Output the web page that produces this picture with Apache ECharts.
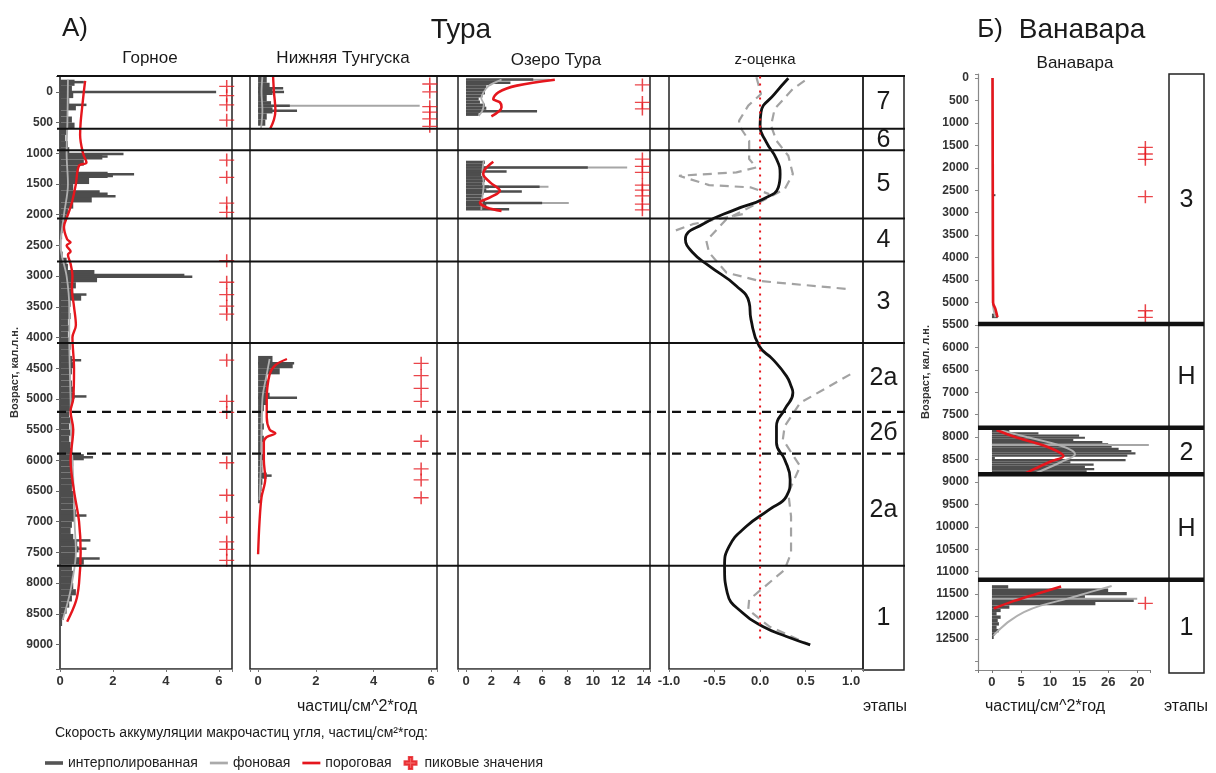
<!DOCTYPE html>
<html>
<head>
<meta charset="utf-8">
<script src="https://cdn.jsdelivr.net/npm/echarts@6/dist/echarts.min.js"></script>
<style>
  html, body { margin: 0; padding: 0; background: #fff; }
  #chart { width: 1216px; height: 773px; }
</style>
</head>
<body>
<div id="chart"></div>
<script>
// ---- данные: [возраст кал. л.н., частиц/см^2*год] ----
const turaBounds = [600, 950, 2060, 2760, 4090, 7720];
const turaDashedBounds = [5210, 5890];
const turaStages = [['7', -260, 600], ['6', 600, 950], ['5', 950, 2060], ['4', 2060, 2760], ['3', 2760, 4090],
  ['2а', 4090, 5210], ['2б', 5210, 5890], ['2а', 5890, 7720], ['1', 7720, 9400]];

const vanBounds = [5480, 7790, 8830, 11180];
const vanStages = [['3', -90, 5480], ['Н', 5480, 7790], ['2', 7790, 8830], ['Н', 8830, 11180], ['1', 11180, 13190]];
const vanTickLabels = ['0', '5', '10', '15', '26', '20'];

// Горное
const gornoeBins = [[-200,0.55],[-100,0.45],[0,0.5],[100,0.35],[200,0.6],[300,0.3],[400,0.45],[500,0.55],[600,0.25],[700,0.2],
  [800,0.3],[900,0.35],[1000,1.6],[1100,0.9],[1200,0.7],[1300,1.8],[1400,1.1],[1500,0.5],[1600,1.5],[1700,1.2],[1800,0.5],
  [1900,0.3],[2000,0.25],[2100,0.15],[2200,0.1],[2300,0.08],[2400,0.05],[2500,0.05],[2600,0.1],[2700,0.25],[2800,0.3],
  [2900,1.3],[3000,1.4],[3100,0.6],[3200,0.5],[3300,0.8],[3400,0.4],[3500,0.35],[3600,0.4],[3700,0.3],[3800,0.35],
  [3900,0.3],[4000,0.35],[4100,0.4],[4200,0.35],[4300,0.45],[4400,0.5],[4500,0.45],[4600,0.4],[4700,0.45],[4800,0.5],
  [4900,0.55],[5000,0.45],[5100,0.4],[5200,0.35],[5300,0.4],[5400,0.35],[5500,0.4],[5600,0.35],[5700,0.4],[5800,0.45],
  [5900,0.9],[6000,0.5],[6100,0.4],[6200,0.45],[6300,0.5],[6400,0.45],[6500,0.5],[6600,0.55],[6700,0.5],[6800,0.6],
  [6900,0.55],[7000,0.45],[7100,0.4],[7200,0.5],[7300,0.65],[7400,0.7],[7500,0.6],[7600,0.9],[7700,0.45],[7800,0.5],
  [7900,0.45],[8000,0.5],[8100,0.6],[8200,0.45],[8300,0.35],[8400,0.25],[8500,0.15],[8600,0.08]];
const gornoeSpikes = [[-160,0.9],[0,5.9],[210,1.0],[1010,2.4],[1050,1.8],[1340,2.8],[1370,2.0],[1660,1.8],[1700,2.1],
  [2980,4.7],[3010,5.0],[3040,1.4],[3300,1.0],[4370,0.8],[4960,1.0],[5950,1.25],[6900,1.0],[7305,1.15],[7440,1.0],[7600,1.5]];
const gornoeBackground = [[-200,0.3],[500,0.28],[1000,0.25],[1500,0.3],[2000,0.15],[2500,0.02],[3000,0.25],[3500,0.35],
  [4000,0.35],[4500,0.37],[5000,0.4],[5500,0.42],[6000,0.47],[6500,0.52],[7000,0.55],[7500,0.6],[8000,0.45],[8300,0.3],[8600,0.1]];
const gornoeThreshold = [[-180,0.95],[0,0.9],[200,0.85],[500,0.78],[700,0.76],[1000,0.87],[1150,1.0],[1200,0.72],[1500,0.6],
  [1800,0.45],[2000,0.3],[2200,0.15],[2400,0.27],[2450,0.4],[2500,0.25],[2600,0.4],[2650,0.3],[2800,0.4],[3000,0.47],
  [3200,0.45],[3500,0.53],[3800,0.6],[4000,0.47],[4500,0.53],[5000,0.5],[5200,0.4],[5500,0.5],[6000,0.4],[6500,0.53],
  [7000,0.72],[7500,0.78],[8000,0.72],[8300,0.6],[8630,0.27]];
const gornoePeaks = [-90,60,210,460,1110,1390,1810,1960,2750,3100,3300,3490,3620,4370,5040,5220,6040,6570,6930,7330,7450,7630]
  .map(a => [6.3, a]);

// Нижняя Тунгуска
const ntBins = [[-250,0.3],[-150,0.4],[-50,0.5],[50,0.3],[150,0.45],[250,0.5],[350,0.3],[450,0.25],
  [4300,0.5],[4400,1.2],[4500,0.75],[4600,0.3],[4700,0.35],[4800,0.3],[4900,0.4],[5000,0.3],[5100,0.2],[5200,0.15],
  [5300,0.15],[5400,0.2],[5500,0.15],[5600,0.2],[5700,0.15],[5800,0.15],[5900,0.2],[6000,0.15],[6100,0.15],[6200,0.3],
  [6300,0.15],[6400,0.12],[6500,0.1],[6600,0.08]];
const ntSpikes = [[-60,0.87],[0,0.9],[225,1.1],[305,1.35],[4420,1.25],[4980,1.35],[6250,0.47]];
const ntSpikesLight = [[225,5.6]];
const ntBackgroundUpper = [[-250,0.15],[0,0.12],[300,0.15],[600,0.1]];
const ntBackgroundLower = [[4350,0.4],[4600,0.3],[5000,0.15],[6000,0.1],[6650,0.05]];
const ntThresholdUpper = [[-250,0.52],[0,0.55],[300,0.6],[450,0.55],[600,0.42]];
const ntThresholdLower = [[4350,1.0],[4450,0.6],[4600,0.4],[5000,0.3],[5300,0.3],[5500,0.4],[5560,0.6],[5620,0.3],
  [5700,0.2],[6000,0.2],[6300,0.25],[6600,0.12],[7000,0.05],[7530,0.0]];
const ntPeaks = [[5.95,-130],[5.95,0],[5.95,240],[5.95,330],[5.95,440],[5.95,560],
  [5.65,4420],[5.65,4620],[5.65,4830],[5.65,5040],[5.65,5690],[5.65,6140],[5.65,6320],[5.65,6610]];

// Озеро Тура
const otBins = [[-210,2.5],[-160,2.0],[-110,1.6],[-60,1.5],[-10,1.5],[40,1.3],[90,1.0],[140,1.1],[190,1.5],[240,1.6],
  [290,1.2],[340,1.0],
  [1120,1.5],[1170,1.4],[1220,1.6],[1270,1.3],[1320,1.2],[1370,1.4],[1420,1.5],[1470,1.3],[1520,1.8],[1570,1.6],
  [1620,1.4],[1670,1.3],[1720,1.2],[1770,1.5],[1820,1.6],[1870,1.4]];
const otSpikes = [[-205,5.3],[-150,3.5],[315,5.6],[1230,9.6],[1295,3.2],[1545,5.8],[1620,4.4],[1810,6.0],[1910,3.4]];
const otSpikesLight = [[-200,6.6],[1230,12.7],[1545,6.5],[1810,8.1]];
const otBackgroundUpper = [[-200,2.8],[-100,1.8],[0,1.4],[100,1.2],[200,1.4],[300,1.3],[390,1.0]];
const otBackgroundLower = [[1120,1.4],[1300,1.3],[1500,1.4],[1700,1.3],[1920,1.2]];
const otThresholdUpper = [[-200,7.0],[-103,4.0],[5,2.55],[114,2.15],[168,2.67],[250,2.8],[397,2.0]];
const otThresholdLower = [[1137,2.15],[1256,1.5],[1338,1.36],[1473,1.9],[1610,2.67],[1718,1.9],[1800,1.1],[1882,1.63],[1937,2.8]];
const otPeaks = [-115,170,277,1093,1212,1310,1517,1599,1692,1827,1920].map(a => [13.9, a]);

// z-оценка: [возраст, z]
const zComposite = [[-223,0.31],[33,0.16],[331,0.01],[550,0.0],[820,0.07],[1093,0.18],[1338,0.22],[1555,0.2],[1746,0.03],
  [1909,-0.26],[2154,-0.63],[2398,-0.82],[2616,-0.74],[2834,-0.56],[3160,-0.26],[3431,-0.12],[3704,-0.1],[4139,-0.01],
  [4356,0.14],[4629,0.29],[4791,0.34],[4900,0.36],[5172,0.27],[5444,0.18],[5716,0.18],[5988,0.27],[6314,0.33],[6586,0.29],
  [6804,0.10],[7076,-0.15],[7402,-0.34],[7728,-0.39],[8162,-0.36],[8489,-0.19],[8707,0.03],[8870,0.29],[9006,0.55]];
const zSiteA1 = [[-184,0.49],[-49,0.36],[277,0.16],[550,0.12],[795,0.18],[1040,0.31],[1338,0.36],[1583,0.27],[1800,-0.01],
  [2072,-0.37],[2426,-0.59],[2616,-0.56],[2942,-0.37],[3078,-0.01],[3214,0.99]];
const zSiteA2 = [[4600,0.99],[5064,0.44],[5444,0.27],[5662,0.25],[6097,0.44],[6532,0.31],[6913,0.34],[7511,0.34],
  [7783,0.27],[8272,-0.12],[8435,-0.13],[8707,0.10],[9006,0.55]];
const zSiteB1 = [[-240,-0.04],[33,0.01],[223,-0.13],[468,-0.23],[550,-0.23],[795,-0.12],[1093,-0.12],[1229,-0.04],
  [1310,-0.26],[1365,-0.89],[1517,-0.56],[1555,-0.10],[1664,0.10]];
const zSiteB2 = [[1990,-0.19],[2154,-0.74],[2263,-0.94]];
const zZero = [[-250,0],[8970,0]];

// Ванавара
const vanBins = [[5250,0.8],[5300,1.0],
  [7840,3],[7890,8],[7940,15],[7990,16],[8040,14],[8090,19],[8140,20],[8190,20.6],[8240,21.8],[8290,24],[8340,24.7],
  [8390,23.3],[8440,0.5],[8490,23],[8540,13.5],[8590,17.5],[8640,16],[8690,17.6],[8740,16.3],[8790,15.5]];
const vanBins3 = [[11300,2.8],[11375,20],[11450,23.2],[11525,16],[11600,24.4],[11675,17.8],[11750,3],[11825,1.5],
  [11900,0.8],[11975,1.5],[12050,1.0],[12125,1.2],[12200,0.8],[12275,1.2],[12350,0.5],[12425,0.3]];
const vanSpikes = [[2610,0.6]];
const vanSpikesLight = [[8177,27],[11600,25]];
const vanBackground = [[[0,0.1],[5000,0.15],[5330,0.6]],
  [[7830,1],[8000,6],[8200,12],[8380,14.3],[8550,12],[8810,7.4]],
  [[11320,20.6],[11450,17],[11600,13],[11750,8.5],[11900,5.5],[12100,3.0],[12300,1.2],[12420,0.3]]];
const vanThreshold = [[[0,0.1],[2600,0.15],[5000,0.2],[5150,0.6],[5330,0.95]],
  [[7843,0.8],[8000,4],[8150,8],[8300,11],[8420,12.3],[8550,10],[8700,7.5],[8810,5.7]],
  [[11330,11.9],[11500,7.5],[11650,3.8],[11820,0.3]]];
const vanPeaks = [[26.4,1545],[26.4,1693],[26.4,1812],[26.4,2644],[26.4,5185],[26.4,5332],[27.4,8527],[27.4,8823],[26.4,11705]];

// ---- оформление ----
const FONT = '"Liberation Sans", Arial, sans-serif';
const DARK = '#4d4d4d', LIGHT = '#a6a6a6', BG = '#b0b0b0', RED = '#e5161d';
const TURA_MIN = -260, TURA_MAX = 9400, VAN_MIN = -90, VAN_MAX = 13190;
const PLUS = 'path://M0,7L16,7M8,0L8,14';

const chart = echarts.init(document.getElementById('chart'), null, { renderer: 'canvas' });

const flip = rows => rows.map(([a, v]) => [v, a]);

function bars(name, g, rows, bin, color) {
  return {
    type: 'custom', name, xAxisIndex: g, yAxisIndex: g, z: 2, silent: true,
    itemStyle: { color },
    data: flip(rows),
    renderItem(params, api) {
      const p0 = api.coord([0, api.value(1)]);
      const p1 = api.coord([api.value(0), api.value(1) + bin]);
      return { type: 'rect', shape: { x: p0[0], y: p0[1], width: p1[0] - p0[0], height: p1[1] - p0[1] },
        style: { fill: color } };
    }
  };
}
function spikes(g, rows, color, thick) {
  return {
    type: 'custom', name: 'spikes', xAxisIndex: g, yAxisIndex: g, z: 3, silent: true,
    data: flip(rows),
    renderItem(params, api) {
      const p0 = api.coord([0, api.value(1)]);
      const p1 = api.coord([api.value(0), api.value(1)]);
      return { type: 'rect', shape: { x: p0[0], y: p0[1] - thick / 2, width: p1[0] - p0[0], height: thick },
        style: { fill: color } };
    }
  };
}
function curve(name, g, rows, color, width, extra) {
  return Object.assign({
    type: 'line', name, xAxisIndex: g, yAxisIndex: g, z: 4, silent: true,
    data: flip(rows), showSymbol: false, symbol: 'none', smooth: 0.35,
    itemStyle: { color }, lineStyle: { color, width }
  }, extra || {});
}
function peaks(g, pts) {
  return {
    type: 'scatter', name: 'пиковые значения', xAxisIndex: g, yAxisIndex: g, z: 5, silent: true,
    data: pts, symbol: PLUS, symbolSize: [15, 13],
    itemStyle: { color: RED, borderColor: RED, borderWidth: 1.4 }
  };
}
function hLines(g, ages, width, dash) {
  return {
    type: 'custom', name: 'bounds', xAxisIndex: g, yAxisIndex: g, z: 6, silent: true,
    data: ages.map(a => [0, a]),
    renderItem(params, api) {
      const y = api.coord([0, api.value(1)])[1];
      const cs = params.coordSys;
      return { type: 'line', shape: { x1: cs.x, y1: y, x2: cs.x + cs.width, y2: y },
        style: { stroke: '#111', lineWidth: width, lineDash: dash || null } };
    }
  };
}
function stageLabels(g, stages) {
  return {
    type: 'custom', name: 'stages', xAxisIndex: g, yAxisIndex: g, z: 6, silent: true,
    data: stages.map(s => [0.5, (s[1] + s[2]) / 2]),
    renderItem(params, api) {
      const p = api.coord([api.value(0), api.value(1)]);
      return { type: 'text', x: p[0], y: p[1],
        style: { text: stages[params.dataIndex][0], textAlign: 'center', textVerticalAlign: 'middle',
          font: '25px ' + FONT, fill: '#1a1a1a' } };
    }
  };
}

// сетки
const T = { top: 76, height: 593 };
const V = { top: 74, height: 596 };
const box = { show: true, borderColor: '#222', borderWidth: 1.5, backgroundColor: 'transparent' };
const grid = [
  Object.assign({ left: 60, width: 172 }, T, box),          // 0 Горное
  Object.assign({ left: 250, width: 187 }, T, box),         // 1 Нижняя Тунгуска
  Object.assign({ left: 458, width: 192 }, T, box),         // 2 Озеро Тура
  Object.assign({ left: 669, width: 194 }, T, box),         // 3 z-оценка
  Object.assign({ left: 863, width: 41, top: 76, height: 594 }, box), // 4 этапы Тура
  Object.assign({ left: 57, width: 848 }, T, { show: false }),      // 5 границы Тура
  Object.assign({ left: 978, width: 172 }, V, { show: false }),     // 6 Ванавара
  Object.assign({ left: 1169, width: 35, top: 74, height: 599 }, box), // 7 этапы Ванавара
  Object.assign({ left: 978, width: 226 }, V, { show: false })      // 8 границы Ванавара
];

const labelStyle = { fontFamily: FONT, fontWeight: 'bold', fontSize: 13, color: '#333' };
const hidden = { show: false };
function xVal(opts) {
  return Object.assign({
    type: 'value', splitLine: hidden,
    axisLine: { show: true, onZero: false, lineStyle: { color: '#777', width: 1 } },
    axisTick: { show: true, length: 3, lineStyle: { color: '#777' } },
    axisLabel: Object.assign({ margin: 6 }, labelStyle)
  }, opts);
}
const evenInt = step => v => (Math.abs(v - Math.round(v / step) * step) < 1e-6 && v >= 0) ? String(Math.round(v)) : '';

const xAxis = [
  xVal({ gridIndex: 0, min: 0, max: 6.5, interval: 2, axisLabel: Object.assign({ margin: 6, formatter: v => v <= 6 ? String(v) : '' }, labelStyle) }),
  xVal({ gridIndex: 1, min: -0.28, max: 6.2, splitNumber: 3, axisLabel: Object.assign({ margin: 6, formatter: evenInt(2) }, labelStyle) }),
  xVal({ gridIndex: 2, min: -0.63, max: 14.5, splitNumber: 8, axisLabel: Object.assign({ margin: 6, formatter: evenInt(2) }, labelStyle) }),
  xVal({ gridIndex: 3, min: -1, max: 1.13, interval: 0.5, axisLabel: Object.assign({ margin: 6, formatter: v => v <= 1.0001 ? v.toFixed(1) : '' }, labelStyle) }),
  { type: 'value', gridIndex: 4, min: 0, max: 1, show: false },
  { type: 'value', gridIndex: 5, min: 0, max: 1, show: false },
  xVal({ gridIndex: 6, min: -2.4, max: 27.2, splitNumber: 6, axisLine: { show: true, onZero: false, lineStyle: { color: '#888' } },
    axisLabel: Object.assign({ margin: 6, formatter: v => {
      const i = Math.round(v / 5);
      return (Math.abs(v - i * 5) < 1e-6 && i >= 0 && i < vanTickLabels.length) ? vanTickLabels[i] : '';
    } }, labelStyle) }),
  { type: 'value', gridIndex: 7, min: 0, max: 1, show: false },
  { type: 'value', gridIndex: 8, min: 0, max: 1, show: false }
];

const ageLabel = last => v => (v >= 0 && v <= last && v % 500 === 0) ? String(v) : '';
function yTura(g, visible) {
  return {
    type: 'value', gridIndex: g, inverse: true, min: TURA_MIN, max: TURA_MAX, splitNumber: 19,
    show: visible, splitLine: hidden,
    name: visible ? 'Возраст, кал.л.н.' : '', nameLocation: 'middle', nameGap: 40,
    nameTextStyle: { fontFamily: FONT, fontWeight: 'bold', fontSize: 11, color: '#333' },
    axisLine: { show: true, onZero: false, lineStyle: { color: '#555', width: 1.5 } },
    axisTick: { show: true, length: 4, lineStyle: { color: '#666' } },
    axisLabel: Object.assign({ formatter: ageLabel(9000), margin: 7 }, labelStyle, { fontSize: 12 })
  };
}
function yVan(g, visible) {
  return {
    type: 'value', gridIndex: g, inverse: true, min: VAN_MIN, max: VAN_MAX, splitNumber: 26,
    show: visible, splitLine: hidden,
    name: visible ? 'Возраст, кал. л.н.' : '', nameLocation: 'middle', nameGap: 46,
    nameTextStyle: { fontFamily: FONT, fontWeight: 'bold', fontSize: 11, color: '#333' },
    axisLine: { show: true, onZero: false, lineStyle: { color: '#888', width: 1.2 } },
    axisTick: { show: true, length: 3, lineStyle: { color: '#888' } },
    axisLabel: Object.assign({ formatter: ageLabel(12500), margin: 9 }, labelStyle, { fontSize: 12 })
  };
}
const yAxis = [yTura(0, true), yTura(1, false), yTura(2, false), yTura(3, false), yTura(4, false), yTura(5, false),
  yVan(6, true), yVan(7, false), yVan(8, false)];

const dashed = { smooth: false, lineStyle: { color: '#a3a3a3', width: 2.2, type: [9, 6] } };
const series = [
  // Горное
  bars('интерполированная', 0, gornoeBins, 100, DARK),
  spikes(0, gornoeSpikes, DARK, 2.5),
  curve('фоновая', 0, gornoeBackground, BG, 1.8),
  curve('пороговая', 0, gornoeThreshold, RED, 2.4),
  peaks(0, gornoePeaks),
  // Нижняя Тунгуска
  bars('интерполированная', 1, ntBins, 100, DARK),
  spikes(1, ntSpikesLight, LIGHT, 2),
  spikes(1, ntSpikes, DARK, 2.5),
  curve('фоновая', 1, ntBackgroundUpper, BG, 1.8),
  curve('фоновая', 1, ntBackgroundLower, BG, 1.8),
  curve('пороговая', 1, ntThresholdUpper, RED, 2.4),
  curve('пороговая', 1, ntThresholdLower, RED, 2.4),
  peaks(1, ntPeaks),
  // Озеро Тура
  bars('интерполированная', 2, otBins, 50, DARK),
  spikes(2, otSpikesLight, LIGHT, 2),
  spikes(2, otSpikes, DARK, 2.5),
  curve('фоновая', 2, otBackgroundUpper, BG, 1.8),
  curve('фоновая', 2, otBackgroundLower, BG, 1.8),
  curve('пороговая', 2, otThresholdUpper, RED, 2.6),
  curve('пороговая', 2, otThresholdLower, RED, 2.6),
  peaks(2, otPeaks),
  // z-оценка
  curve('z-site', 3, zSiteA1, '#a3a3a3', 2.2, dashed),
  curve('z-site', 3, zSiteA2, '#a3a3a3', 2.2, dashed),
  curve('z-site', 3, zSiteB1, '#a3a3a3', 2.2, dashed),
  curve('z-site', 3, zSiteB2, '#a3a3a3', 2.2, dashed),
  curve('z-composite', 3, zComposite, '#111', 2.8, { smooth: 0.5, z: 5 }),
  curve('z-zero', 3, zZero, RED, 2, { smooth: false, z: 6, lineStyle: { color: RED, width: 2, type: [2, 5] } }),
  // этапы и границы Тура
  stageLabels(4, turaStages),
  hLines(5, [TURA_MIN].concat(turaBounds), 2),
  hLines(5, turaDashedBounds, 2.2, [9, 6]),
  // Ванавара
  bars('интерполированная', 6, vanBins, 50, DARK),
  bars('интерполированная', 6, vanBins3, 75, DARK),
  spikes(6, vanSpikesLight, LIGHT, 2),
  spikes(6, vanSpikes, DARK, 2),
  ...vanBackground.map(p => curve('фоновая', 6, p, BG, 2)),
  ...vanThreshold.map(p => curve('пороговая', 6, p, RED, 2.6)),
  peaks(6, vanPeaks),
  stageLabels(7, vanStages),
  hLines(8, vanBounds, 4.5)
];

const txt = (text, x, y, size, align) => ({
  type: 'text', x, y, silent: true,
  style: { text, font: size + 'px ' + FONT, fill: '#1a1a1a', textAlign: align || 'center', textVerticalAlign: 'middle' }
});

const option = {
  animation: false,
  backgroundColor: '#fff',
  grid, xAxis, yAxis, series,
  legend: {
    left: 40, top: 751, itemWidth: 18, itemHeight: 12, itemGap: 12, selectedMode: false,
    textStyle: { fontFamily: FONT, fontSize: 14, color: '#222' },
    data: [
      { name: 'интерполированная', icon: 'path://M0,0L20,0L20,4L0,4Z', itemStyle: { color: '#555' } },
      { name: 'фоновая', icon: 'path://M0,0L20,0L20,3L0,3Z', itemStyle: { color: '#aaa' } },
      { name: 'пороговая', icon: 'path://M0,0L20,0L20,3L0,3Z', itemStyle: { color: RED } },
      { name: 'пиковые значения', icon: 'path://M5,0L9,0L9,5L14,5L14,9L9,9L9,14L5,14L5,9L0,9L0,5L5,5Z', itemStyle: { color: '#f03a3a' } }
    ]
  },
  graphic: [
    txt('А)', 75, 29, 26),
    txt('Тура', 461, 30, 28),
    txt('Б)', 990, 30, 26),
    txt('Ванавара', 1082, 30, 28),
    txt('Горное', 150, 58, 17),
    txt('Нижняя Тунгуска', 343, 58, 17),
    txt('Озеро Тура', 556, 60, 17),
    txt('z-оценка', 765, 60, 15),
    txt('Ванавара', 1075, 63, 17),
    txt('частиц/см^2*год', 357, 707, 16),
    txt('этапы', 885, 707, 16),
    txt('частиц/см^2*год', 1045, 707, 16),
    txt('этапы', 1186, 707, 16),
    txt('Скорость аккумуляции макрочастиц угля, частиц/см²*год:', 55, 733, 14, 'left')
  ]
};

chart.setOption(option);
</script>
</body>
</html>
